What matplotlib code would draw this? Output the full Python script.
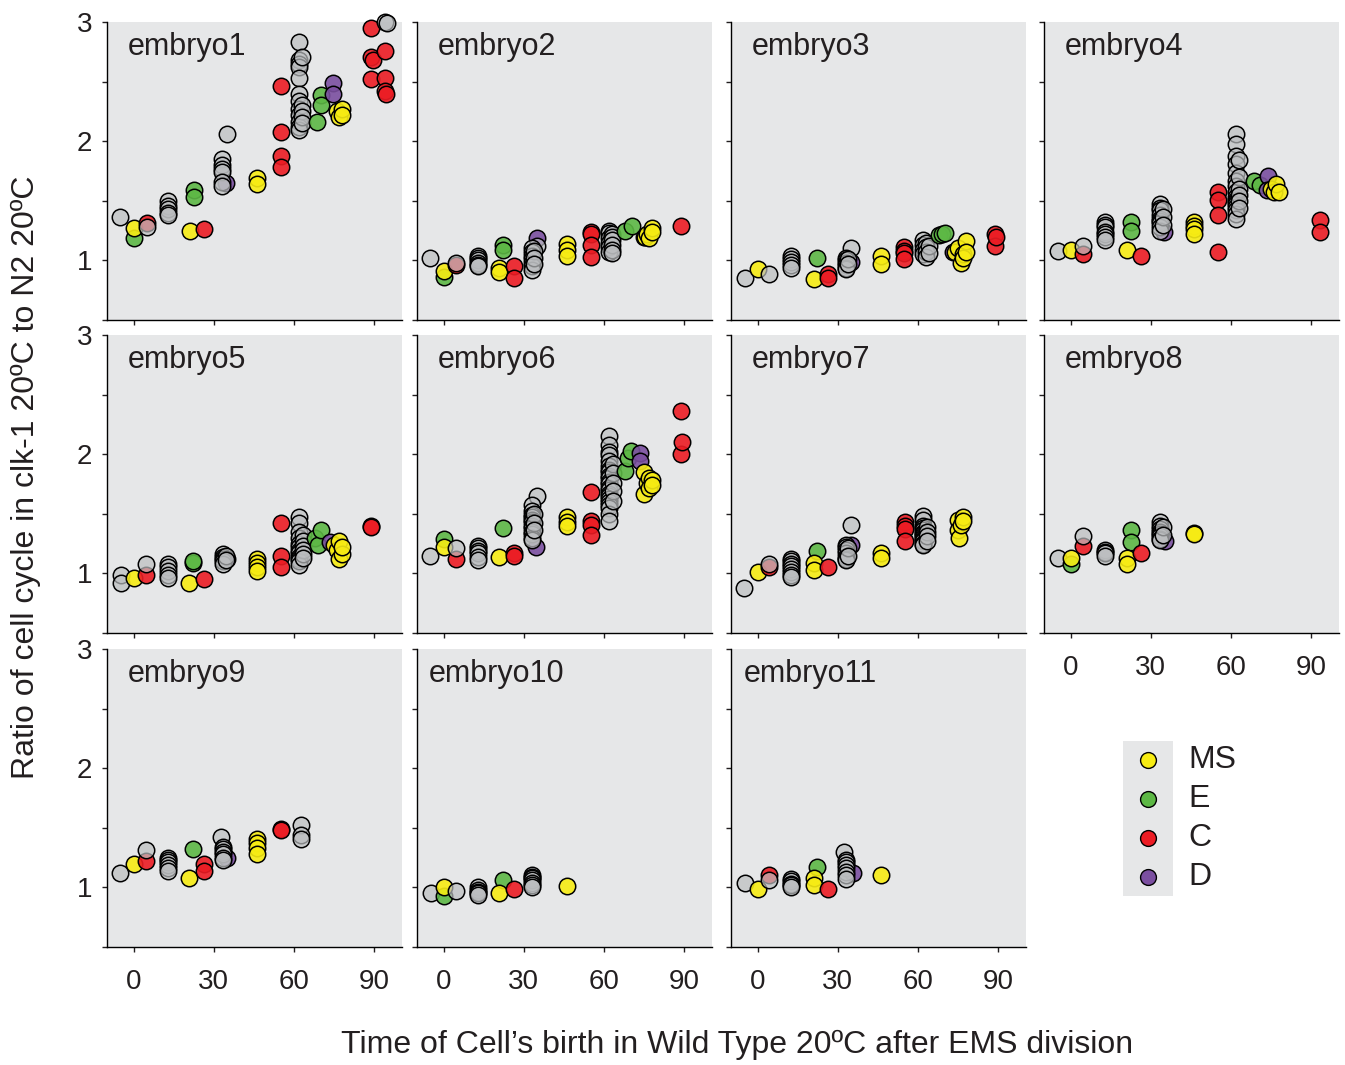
import matplotlib.pyplot as plt
from matplotlib.colors import to_rgba

plt.rcParams['font.family'] = ['Liberation Sans', 'DejaVu Sans']

# lineage colours ('O' = other cells, grey, not in legend)
lineages = ['MS', 'E', 'C', 'D']
colors = {'MS': '#F7EC13', 'E': '#5DB845', 'C': '#EC1C24', 'D': '#7B4FA0', 'O': '#BCBEC0'}
fill_alpha = {'MS': 0.9, 'E': 0.9, 'C': 0.9, 'D': 0.9, 'O': 0.7}

x_ticks = [0, 30, 60, 90]
y_ticks = [0.5, 1, 1.5, 2, 2.5, 3]
y_ticklabels = ['', '1', '', '2', '', '3']

names = ['embryo%d' % i for i in range(1, 12)]

# each entry: (lineage, birth time in WT, [ratios])
embryo1 = [
    ('O', -5, [1.36]), ('E', 0, [1.19]), ('MS', 0, [1.27]), ('C', 5, [1.31]), ('O', 5, [1.28]),
    ('O', 13, [1.50, 1.46, 1.43, 1.40, 1.38]), ('MS', 21, [1.25]), ('E', 22.5, [1.59, 1.53]),
    ('C', 26.5, [1.26]), ('D', 34.5, [1.65]), ('O', 33, [1.85, 1.80, 1.77, 1.74, 1.66, 1.62]),
    ('O', 35, [2.06]), ('MS', 46, [1.69, 1.64]), ('C', 55, [2.46, 2.08, 1.88, 1.78]),
    ('O', 62, [2.83, 2.68, 2.65, 2.62, 2.53, 2.40, 2.34, 2.27, 2.22, 2.16, 2.12, 2.09]),
    ('O', 63, [2.71, 2.30, 2.25, 2.20, 2.15]),
    ('E', 68.5, [2.16]), ('E', 70, [2.39, 2.30]), ('D', 74.5, [2.49, 2.40]),
    ('MS', 76, [2.25]), ('MS', 77, [2.20]), ('MS', 78, [2.27, 2.22]),
    ('C', 89, [2.95, 2.71, 2.52]), ('C', 89.5, [2.68]), ('C', 94, [2.76, 2.53, 2.42]), ('C', 94.5, [2.40]),
    ('O', 94, [3.0]), ('O', 95, [2.99]),
]
embryo2 = [
    ('O', -5, [1.02]), ('E', 0, [0.86]), ('MS', 0, [0.91]), ('C', 4.6, [0.96]), ('O', 4.6, [0.98]),
    ('O', 13, [1.04, 1.02, 1.00, 0.98, 0.96, 0.95]), ('MS', 20.6, [0.94, 0.90]), ('E', 22.4, [1.13, 1.09]),
    ('C', 26.5, [0.95, 0.85]), ('D', 35, [1.19]), ('O', 35, [1.12]),
    ('O', 33, [1.10, 1.07, 1.04, 1.01, 0.98, 0.95, 0.92]), ('O', 34, [1.08, 1.02, 0.97]),
    ('MS', 46, [1.14, 1.09, 1.04]),
    ('C', 55, [1.24, 1.22, 1.13, 1.03]), ('O', 62, [1.25, 1.23, 1.19, 1.15, 1.11, 1.07]),
    ('O', 63, [1.22, 1.20, 1.17, 1.13, 1.09, 1.06]),
    ('E', 68, [1.25]), ('E', 70.6, [1.29]), ('O', 75, [1.20]),
    ('MS', 75.5, [1.20]), ('MS', 76, [1.22]), ('MS', 77, [1.19]), ('MS', 78, [1.27, 1.24]),
    ('C', 89, [1.29]),
]
embryo3 = [
    ('O', -4.6, [0.85]), ('MS', 0, [0.93]), ('O', 4.4, [0.89]),
    ('O', 12.5, [1.04, 1.01, 0.99, 0.96, 0.94]), ('E', 22.3, [1.02]), ('MS', 21, [0.84]),
    ('C', 26.3, [0.89, 0.85]), ('D', 35, [0.99]), ('O', 34.8, [1.10]),
    ('O', 33, [1.02, 1.00, 0.98, 0.96, 0.94, 0.93]), ('O', 34, [1.01, 0.97]), ('MS', 46, [1.04, 0.97]),
    ('C', 54.8, [1.11, 1.08, 1.06, 1.01]), ('O', 62, [1.17, 1.13, 1.09, 1.05]),
    ('O', 63, [1.15, 1.11, 1.07, 1.03]), ('O', 64, [1.12, 1.06]),
    ('E', 68, [1.21]), ('E', 69, [1.22]), ('E', 70, [1.23]), ('D', 73, [1.07]),
    ('MS', 74, [1.07]), ('MS', 75, [1.10]), ('MS', 76, [0.98]), ('MS', 77, [1.05, 1.02]), ('MS', 78, [1.16, 1.07]),
    ('C', 88.8, [1.22, 1.12]), ('C', 89.3, [1.20]),
]
embryo4 = [
    ('O', -4.75, [1.08]), ('MS', 0, [1.09]), ('C', 4.6, [1.05]), ('O', 4.6, [1.12]),
    ('O', 13, [1.32, 1.30, 1.28, 1.24, 1.22, 1.20, 1.17]), ('E', 22.5, [1.32, 1.25]), ('MS', 21, [1.09]),
    ('C', 26.5, [1.04]), ('D', 35, [1.24]), ('O', 33.5, [1.47, 1.44, 1.42, 1.38, 1.35, 1.33, 1.31, 1.28, 1.25]),
    ('O', 34.5, [1.43, 1.36, 1.30]),
    ('MS', 46, [1.32, 1.29, 1.26, 1.22]), ('C', 55, [1.57, 1.51, 1.38, 1.07]),
    ('O', 62, [2.06, 1.98, 1.88, 1.81, 1.73, 1.67, 1.62, 1.57, 1.53, 1.51, 1.49, 1.47, 1.45, 1.42, 1.39, 1.35]),
    ('O', 63, [1.84, 1.70, 1.60, 1.55, 1.50, 1.44]),
    ('E', 68.5, [1.67]), ('E', 71, [1.63]), ('D', 74, [1.71]), ('D', 73.5, [1.59]),
    ('MS', 75, [1.60]), ('MS', 76, [1.57]), ('MS', 77, [1.64]), ('MS', 78, [1.57]),
    ('C', 93.4, [1.34, 1.24]),
]
embryo5 = [
    ('O', -4.75, [0.99, 0.92]), ('MS', 0.2, [0.96]), ('C', 4.6, [0.99]), ('O', 4.6, [1.08]),
    ('O', 12.8, [1.08, 1.05, 1.02, 0.99, 0.96]), ('E', 22.4, [1.09, 1.10]), ('MS', 20.9, [0.92]),
    ('C', 26.5, [0.95]), ('D', 35, [1.12]), ('O', 33.5, [1.16, 1.14, 1.12, 1.10, 1.08]),
    ('O', 34.5, [1.15, 1.11]),
    ('MS', 46, [1.12, 1.09, 1.05, 1.02]), ('C', 55, [1.42, 1.15, 1.05]),
    ('O', 62, [1.47, 1.42, 1.35, 1.30, 1.25, 1.22, 1.19, 1.17, 1.14, 1.12, 1.10, 1.07]),
    ('O', 63.5, [1.32, 1.27, 1.23, 1.20, 1.16, 1.13]),
    ('E', 68, [1.30]), ('E', 69, [1.24]), ('E', 70, [1.36]), ('D', 73.4, [1.26]),
    ('MS', 75, [1.24]), ('MS', 76, [1.20]), ('MS', 77, [1.27, 1.12]), ('MS', 78, [1.16, 1.22]),
    ('C', 89, [1.40, 1.39]),
]
embryo6 = [
    ('O', -5, [1.15]), ('E', 0, [1.29]), ('MS', 0, [1.22]), ('C', 4.6, [1.12]), ('O', 4.6, [1.21]),
    ('O', 12.8, [1.23, 1.21, 1.19, 1.17, 1.14, 1.11]), ('E', 22.4, [1.38]), ('MS', 20.6, [1.14]),
    ('C', 26.5, [1.17, 1.15]), ('D', 34.6, [1.22]), ('O', 35, [1.65]),
    ('O', 33, [1.57, 1.52, 1.49, 1.47, 1.45, 1.43, 1.40, 1.38, 1.35, 1.33, 1.30, 1.28]),
    ('O', 34, [1.50, 1.42, 1.36]),
    ('MS', 46, [1.47, 1.43, 1.40]), ('C', 55, [1.68, 1.44, 1.41, 1.32]),
    ('O', 62, [2.15, 2.08, 2.02, 1.99, 1.94, 1.90, 1.87, 1.85, 1.82, 1.80, 1.77, 1.75,
               1.72, 1.70, 1.67, 1.65, 1.62, 1.60, 1.57, 1.55, 1.50, 1.44]),
    ('O', 63.5, [1.92, 1.84, 1.76, 1.69, 1.61]),
    ('E', 68, [1.86]), ('E', 69, [1.97]), ('E', 70, [2.03]), ('D', 73.7, [2.01]), ('D', 73.5, [1.94]),
    ('MS', 75, [1.85, 1.67]), ('MS', 76, [1.76]), ('MS', 77, [1.80, 1.72]), ('MS', 78, [1.78, 1.74]),
    ('C', 89, [2.36, 2.00]), ('C', 89.3, [2.10]),
]
embryo7 = [
    ('O', -5, [0.88]), ('MS', 0, [1.01]), ('C', 4.4, [1.05]), ('O', 4.4, [1.08]),
    ('O', 12.5, [1.12, 1.10, 1.08, 1.06, 1.04, 1.01, 0.99, 0.97]), ('E', 22.3, [1.19]),
    ('MS', 21, [1.09, 1.03]), ('C', 26.3, [1.05]), ('D', 35, [1.24]), ('O', 34.8, [1.41]),
    ('O', 33, [1.24, 1.22, 1.20, 1.17, 1.14, 1.12, 1.11]), ('O', 34, [1.21, 1.15]),
    ('MS', 46, [1.17, 1.13]),
    ('C', 55, [1.43, 1.40, 1.37, 1.27]),
    ('O', 62, [1.48, 1.45, 1.40, 1.38, 1.36, 1.34, 1.33, 1.31, 1.30, 1.28, 1.27, 1.25, 1.24]),
    ('O', 63.5, [1.39, 1.35, 1.31, 1.27]),
    ('MS', 75, [1.45, 1.36]), ('MS', 75.5, [1.30]), ('MS', 76, [1.41]), ('MS', 77, [1.47, 1.44]),
]
embryo8 = [
    ('O', -4.75, [1.13]), ('E', 0, [1.08]), ('MS', 0, [1.13]), ('C', 4.6, [1.23]), ('O', 4.6, [1.31]),
    ('O', 13, [1.20, 1.18, 1.17, 1.15]), ('E', 22.5, [1.36, 1.26]), ('MS', 21, [1.13, 1.08]),
    ('C', 26.5, [1.17]), ('D', 35.5, [1.27]), ('O', 33.5, [1.43, 1.40, 1.37, 1.35, 1.33, 1.31, 1.29, 1.28]),
    ('O', 34.5, [1.39, 1.32]),
    ('MS', 46, [1.34, 1.33]),
]
embryo9 = [
    ('O', -5, [1.12]), ('MS', 0, [1.20]), ('C', 4.6, [1.22]), ('O', 4.6, [1.31]),
    ('O', 12.8, [1.25, 1.23, 1.21, 1.19, 1.16, 1.14]), ('E', 22.4, [1.32]), ('MS', 20.9, [1.08]),
    ('C', 26.5, [1.20, 1.14]), ('D', 35, [1.25]), ('O', 32.8, [1.42]),
    ('O', 33.5, [1.34, 1.32, 1.30, 1.28, 1.25, 1.23]), ('MS', 46, [1.41, 1.37, 1.33, 1.28]),
    ('C', 55, [1.49, 1.48]), ('O', 62.6, [1.52, 1.44, 1.41]),
]
embryo10 = [
    ('O', -4.75, [0.955]), ('E', 0, [0.93]), ('MS', 0, [1.00]), ('O', 4.6, [0.97]),
    ('O', 12.8, [1.00, 0.98, 0.96, 0.95, 0.94]), ('E', 22.4, [1.06]), ('MS', 20.6, [0.955]),
    ('C', 26.5, [0.99]), ('O', 33, [1.10, 1.09, 1.08, 1.06, 1.04, 1.02, 1.00]), ('MS', 46, [1.01]),
]
embryo11 = [
    ('O', -4.6, [1.04]), ('MS', 0, [0.99]), ('C', 4.4, [1.10]), ('O', 4.4, [1.06]),
    ('O', 12.5, [1.07, 1.05, 1.03, 1.02, 1.00]), ('E', 22.3, [1.17]), ('MS', 21, [1.08, 1.02]),
    ('C', 26.3, [0.99]), ('D', 35.6, [1.12]), ('O', 32.5, [1.30]),
    ('O', 33, [1.23, 1.21, 1.19, 1.16, 1.13, 1.10, 1.07]), ('MS', 46, [1.10]),
]

embryos = [embryo1, embryo2, embryo3, embryo4, embryo5, embryo6,
           embryo7, embryo8, embryo9, embryo10, embryo11]

W, H = 1345, 1065
fig = plt.figure(figsize=(W / 100, H / 100), dpi=100)
lefts = [107, 417, 731, 1044]
tops = [22, 335, 649]
pw, ph = 295, 298
bg = '#E6E7E8'
txt = '#231F20'

for i, data in enumerate(embryos):
    r, c = divmod(i, 4)
    ax = fig.add_axes([lefts[c] / W, 1 - (tops[r] + ph) / H, pw / W, ph / H])
    ax.set_facecolor(bg)
    for lin, t, vals in data:
        ax.scatter([t] * len(vals), vals, s=140, facecolors=[to_rgba(colors[lin], fill_alpha[lin])],
                   edgecolors='black', linewidths=1.1, clip_on=False, zorder=3)
    ax.set_xlim(-10, 100.5)
    ax.set_ylim(0.5, 3)
    ax.set_xticks(x_ticks)
    ax.set_yticks(y_ticks)
    for s in ['top', 'right']:
        ax.spines[s].set_visible(False)
    for s in ['left', 'bottom']:
        ax.spines[s].set_linewidth(1.0)
    ax.tick_params(direction='out', length=3.6, width=1, labelsize=20, colors=txt)
    ax.tick_params(axis='x', pad=12)
    ax.tick_params(axis='y', pad=7)
    if c == 0:
        ax.set_yticklabels(y_ticklabels)
    else:
        ax.set_yticklabels([])
    if r == 2 or (r == 1 and c == 3):
        ax.set_xticklabels([str(v) for v in x_ticks])
    else:
        ax.set_xticklabels([])
    ax.text(0.27, 0.965, names[i], transform=ax.transAxes, ha='center', va='top',
            fontsize=22, color=txt)

# legend
lax = fig.add_axes([1123 / W, 1 - 896 / H, 50 / W, 155 / H])
lax.set_facecolor(bg)
for s in lax.spines.values():
    s.set_visible(False)
lax.set_xticks([])
lax.set_yticks([])
lax.set_xlim(0, 1)
lax.set_ylim(4.5, 0.5)
for k, lin in enumerate(lineages):
    lax.scatter([0.5], [k + 1], s=130, c=colors[lin], edgecolors='black', linewidths=1.0)
    lax.text(1.3, k + 1, lin, ha='left', va='center', fontsize=23, color=txt, clip_on=False)

fig.text(26 / W, 1 - 477 / H, 'Ratio of cell cycle in clk-1 20ºC to N2 20ºC', rotation=90,
         ha='center', va='center', fontsize=23, color=txt)
fig.text(737 / W, 1 - 1045 / H, 'Time of Cell’s birth in Wild Type 20ºC after EMS division',
         ha='center', va='center', fontsize=23, color=txt)

fig.savefig('out.png', dpi=100)
